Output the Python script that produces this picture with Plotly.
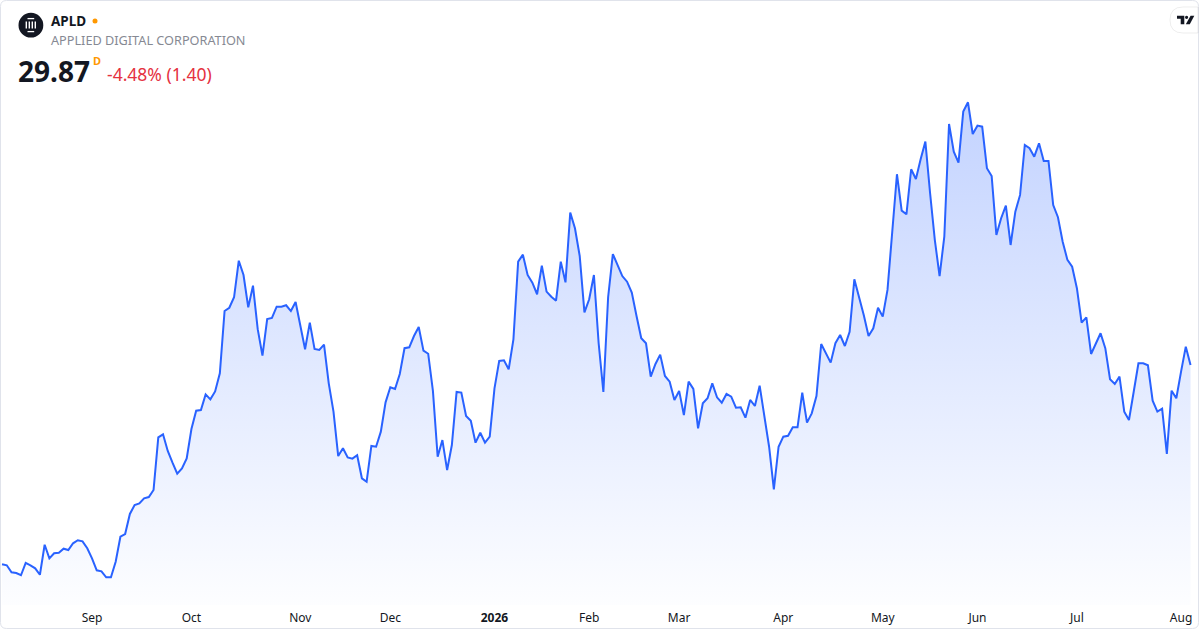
import pandas as pd
import plotly.graph_objects as go

# ---------------- data ----------------
holidays = ["2025-09-01", "2025-11-27", "2025-12-25", "2026-01-01", "2026-01-19",
            "2026-02-16", "2026-04-03", "2026-05-25", "2026-06-19", "2026-07-03"]
first_day = "2025-08-05"
last_day = "2026-08-05"

prices = [
    14.66, 14.58, 14.05, 13.99, 13.82, 14.76, 14.58, 14.35, 13.86, 16.15,
    15.11, 15.50, 15.54, 15.85, 15.75, 16.26, 16.49, 16.41, 15.88, 15.11,
    14.20, 14.12, 13.66, 13.66, 14.85, 16.76, 16.97, 18.50, 19.18, 19.30,
    19.69, 19.79, 20.33, 24.35, 24.58, 23.31, 22.41, 21.57, 21.97, 22.73,
    24.98, 26.38, 26.43, 27.63, 27.25, 27.85, 29.24, 33.99, 34.24, 35.04,
    37.83, 36.74, 34.27, 35.92, 32.60, 30.58, 33.38, 33.46, 34.32, 34.32,
    34.43, 33.99, 34.68, 32.92, 31.07, 33.10, 31.09, 31.02, 31.42, 28.47,
    26.31, 22.92, 23.51, 22.82, 22.72, 22.98, 21.22, 20.96, 23.69, 23.63,
    24.78, 27.02, 28.17, 28.04, 29.18, 31.15, 31.22, 32.08, 32.77, 30.96,
    30.73, 27.89, 22.87, 24.14, 21.85, 23.76, 27.81, 27.76, 25.98, 25.62,
    23.94, 24.70, 23.94, 24.40, 28.09, 30.18, 30.23, 29.54, 31.83, 37.76,
    38.29, 36.74, 36.15, 35.27, 37.45, 35.47, 35.08, 34.78, 37.76, 36.18,
    41.50, 40.31, 38.19, 33.89, 34.89, 36.74, 31.53, 27.81, 35.04, 38.34,
    37.50, 36.66, 36.23, 35.39, 33.61, 31.91, 31.53, 28.98, 29.95, 30.66,
    29.03, 28.60, 27.20, 27.89, 26.05, 28.60, 28.04, 25.04, 26.95, 27.33,
    28.47, 27.40, 26.99, 27.66, 27.45, 26.61, 26.64, 25.85, 27.20, 26.74,
    28.29, 25.80, 23.63, 20.38, 23.63, 24.40, 24.47, 25.11, 25.11, 27.76,
    25.47, 26.18, 27.50, 31.47, 30.81, 30.05, 31.53, 32.16, 31.32, 32.41,
    36.41, 35.08, 33.66, 32.08, 32.67, 34.24, 33.56, 35.60, 39.92, 44.43,
    41.65, 41.37, 44.81, 44.07, 45.57, 46.92, 42.98, 39.41, 36.66, 39.66,
    48.27, 46.15, 45.31, 49.21, 49.92, 47.50, 48.14, 48.06, 44.89, 44.30,
    39.79, 41.07, 42.03, 39.03, 41.57, 42.85, 46.66, 46.41, 45.77, 46.79,
    45.44, 45.44, 42.08, 41.15, 39.28, 37.89, 37.37, 35.73, 33.10, 33.51,
    30.71, 31.47, 32.29, 31.15, 28.78, 28.42, 28.98, 26.31, 25.67, 27.83,
    30.00, 30.00, 29.85, 27.15, 26.31, 26.53, 23.08, 27.91, 27.33, 29.36,
    31.27, 29.87,
]

tick_dates = ["2025-09-02", "2025-10-01", "2025-11-03", "2025-12-01", "2026-01-02",
              "2026-02-02", "2026-03-02", "2026-04-01", "2026-05-01", "2026-06-01",
              "2026-07-01", "2026-08-03"]
tick_labels = ["Sep", "Oct", "Nov", "Dec", "<b>2026</b>", "Feb", "Mar", "Apr",
               "May", "Jun", "Jul", "Aug"]

ticker = "APLD"
company = "APPLIED DIGITAL CORPORATION"
last_price = "29.87"
interval = "D"
change_text = "-4.48% (1.40)"

# ---------------- build ----------------
days = pd.bdate_range(first_day, last_day, freq="C", holidays=holidays)
dates = [d.strftime("%Y-%m-%d") for d in days][:len(prices)]

W, H = 1200, 630
PLOT_B = 605  # pixel y of plot bottom
Y_LOW, Y_HIGH = 11.55, 57.73
X_RANGE = [-0.429, 253.0]
FONT = "Noto Sans"


def X(px):
    return px / W


def Y(py):
    return (PLOT_B - py) / PLOT_B


def path(points, close=False):
    s = ""
    for cmd, pts in points:
        if cmd == "L":
            for a, b in pts:
                s += f"L {X(a):.5f},{Y(b):.5f} "
        else:
            s += cmd + " " + " ".join(f"{X(a):.5f},{Y(b):.5f}" for a, b in pts) + " "
    if close:
        s += "Z"
    return s


fig = go.Figure()
fig.add_trace(go.Scatter(
    x=dates, y=prices, mode="lines",
    line=dict(color="#2962ff", width=2),
    fill="tozeroy",
    fillgradient=dict(type="vertical",
                      colorscale=[[0, "rgba(41,98,255,0.01)"], [1, "rgba(41,98,255,0.28)"]],
                      start=Y_LOW, stop=max(prices)),
    hoverinfo="skip",
))

shapes = []
# card border
r = 6
x0, y0, x1, y1 = 0.5, 0.5, 1198.5, 628.5
shapes.append(dict(type="path", xref="paper", yref="paper", layer="above",
                   path=path([("M", [(x0 + r, y0)]), ("L", [(x1 - r, y0)]), ("Q", [(x1, y0), (x1, y0 + r)]),
                              ("L", [(x1, y1 - r)]), ("Q", [(x1, y1), (x1 - r, y1)]),
                              ("L", [(x0 + r, y1)]), ("Q", [(x0, y1), (x0, y1 - r)]),
                              ("L", [(x0, y0 + r)]), ("Q", [(x0, y0), (x0 + r, y0)])], close=True),
                   line=dict(color="#e0e3eb", width=1)))
# TV pill
shapes.append(dict(type="path", xref="paper", yref="paper",
                   path=path([("M", [(1198, 7)]), ("L", [(1183, 7)]), ("Q", [(1170, 7), (1170, 20)]),
                              ("Q", [(1170, 33), (1183, 33)]), ("L", [(1198, 33)])], close=True),
                   fillcolor="white", line=dict(color="rgba(0,0,0,0.07)", width=1)))
# TV glyph
shapes.append(dict(type="path", xref="paper", yref="paper",
                   path=path([("M", [(1177, 15.7)]), ("L", [(1184.3, 15.7), (1184.3, 24.2), (1180.7, 24.2),
                                                              (1180.7, 18.8), (1177, 18.8)])], close=True),
                   fillcolor="#131722", line=dict(width=0)))
shapes.append(dict(type="circle", xref="paper", yref="paper",
                   x0=X(1185), x1=X(1188.2), y0=Y(15.7), y1=Y(18.9),
                   fillcolor="#131722", line=dict(width=0)))
shapes.append(dict(type="path", xref="paper", yref="paper",
                   path=path([("M", [(1190.6, 15.7)]), ("L", [(1194.3, 15.7), (1189.8, 24.2), (1185.8, 24.2)])],
                             close=True),
                   fillcolor="#131722", line=dict(width=0)))
# company logo
shapes.append(dict(type="circle", xref="paper", yref="paper",
                   x0=X(18.5), x1=X(43.3), y0=Y(37.6), y1=Y(12.8),
                   fillcolor="#131722", line=dict(width=0)))
for bx in (26.3, 29.3, 32.3, 35.3):
    shapes.append(dict(type="line", xref="paper", yref="paper",
                       x0=X(bx), x1=X(bx), y0=Y(21.5), y1=Y(28.5),
                       line=dict(color="white", width=1.4)))
for by in (18.6, 31.6):
    shapes.append(dict(type="line", xref="paper", yref="paper",
                       x0=X(27.5), x1=X(34.2), y0=Y(by), y1=Y(by),
                       line=dict(color="white", width=1.3)))
# orange status dot
shapes.append(dict(type="circle", xref="paper", yref="paper",
                   x0=X(92.5), x1=X(97.5), y0=Y(23.5), y1=Y(18.5),
                   fillcolor="#ff9800", line=dict(width=0)))


def ann(text, px, py, size, color, bold=False):
    return dict(text=f"<b>{text}</b>" if bold else text, x=X(px), y=Y(py), xref="paper", yref="paper",
                xanchor="left", yanchor="middle", showarrow=False,
                font=dict(family=FONT, size=size, color=color))


annotations = [
    ann(ticker, 48.5, 21, 13.5, "#131722", bold=True),
    ann(company, 48.5, 40.5, 12.7, "#868993"),
    ann(last_price, 15.5, 70.5, 28, "#131722", bold=True),
    ann(interval, 90.5, 61, 11, "#ff9800", bold=True),
    ann(change_text, 105, 74.5, 17.5, "#e5323f"),
]

fig.update_layout(
    width=W, height=H,
    margin=dict(l=0, r=0, t=0, b=H - PLOT_B),
    paper_bgcolor="white", plot_bgcolor="white",
    showlegend=False,
    shapes=shapes,
    annotations=annotations,
    xaxis=dict(type="category", range=X_RANGE, tickvals=tick_dates, ticktext=tick_labels,
               showgrid=False, zeroline=False, showline=False, ticks="",
               ticklabelstandoff=4,
               tickfont=dict(family=FONT, size=12, color="#131722"), fixedrange=True),
    yaxis=dict(range=[Y_LOW, Y_HIGH], visible=False, fixedrange=True),
)

fig.write_html("out.html", config={"displayModeBar": False},
               post_script="document.body.style.margin='0';document.body.style.overflow='hidden';")
